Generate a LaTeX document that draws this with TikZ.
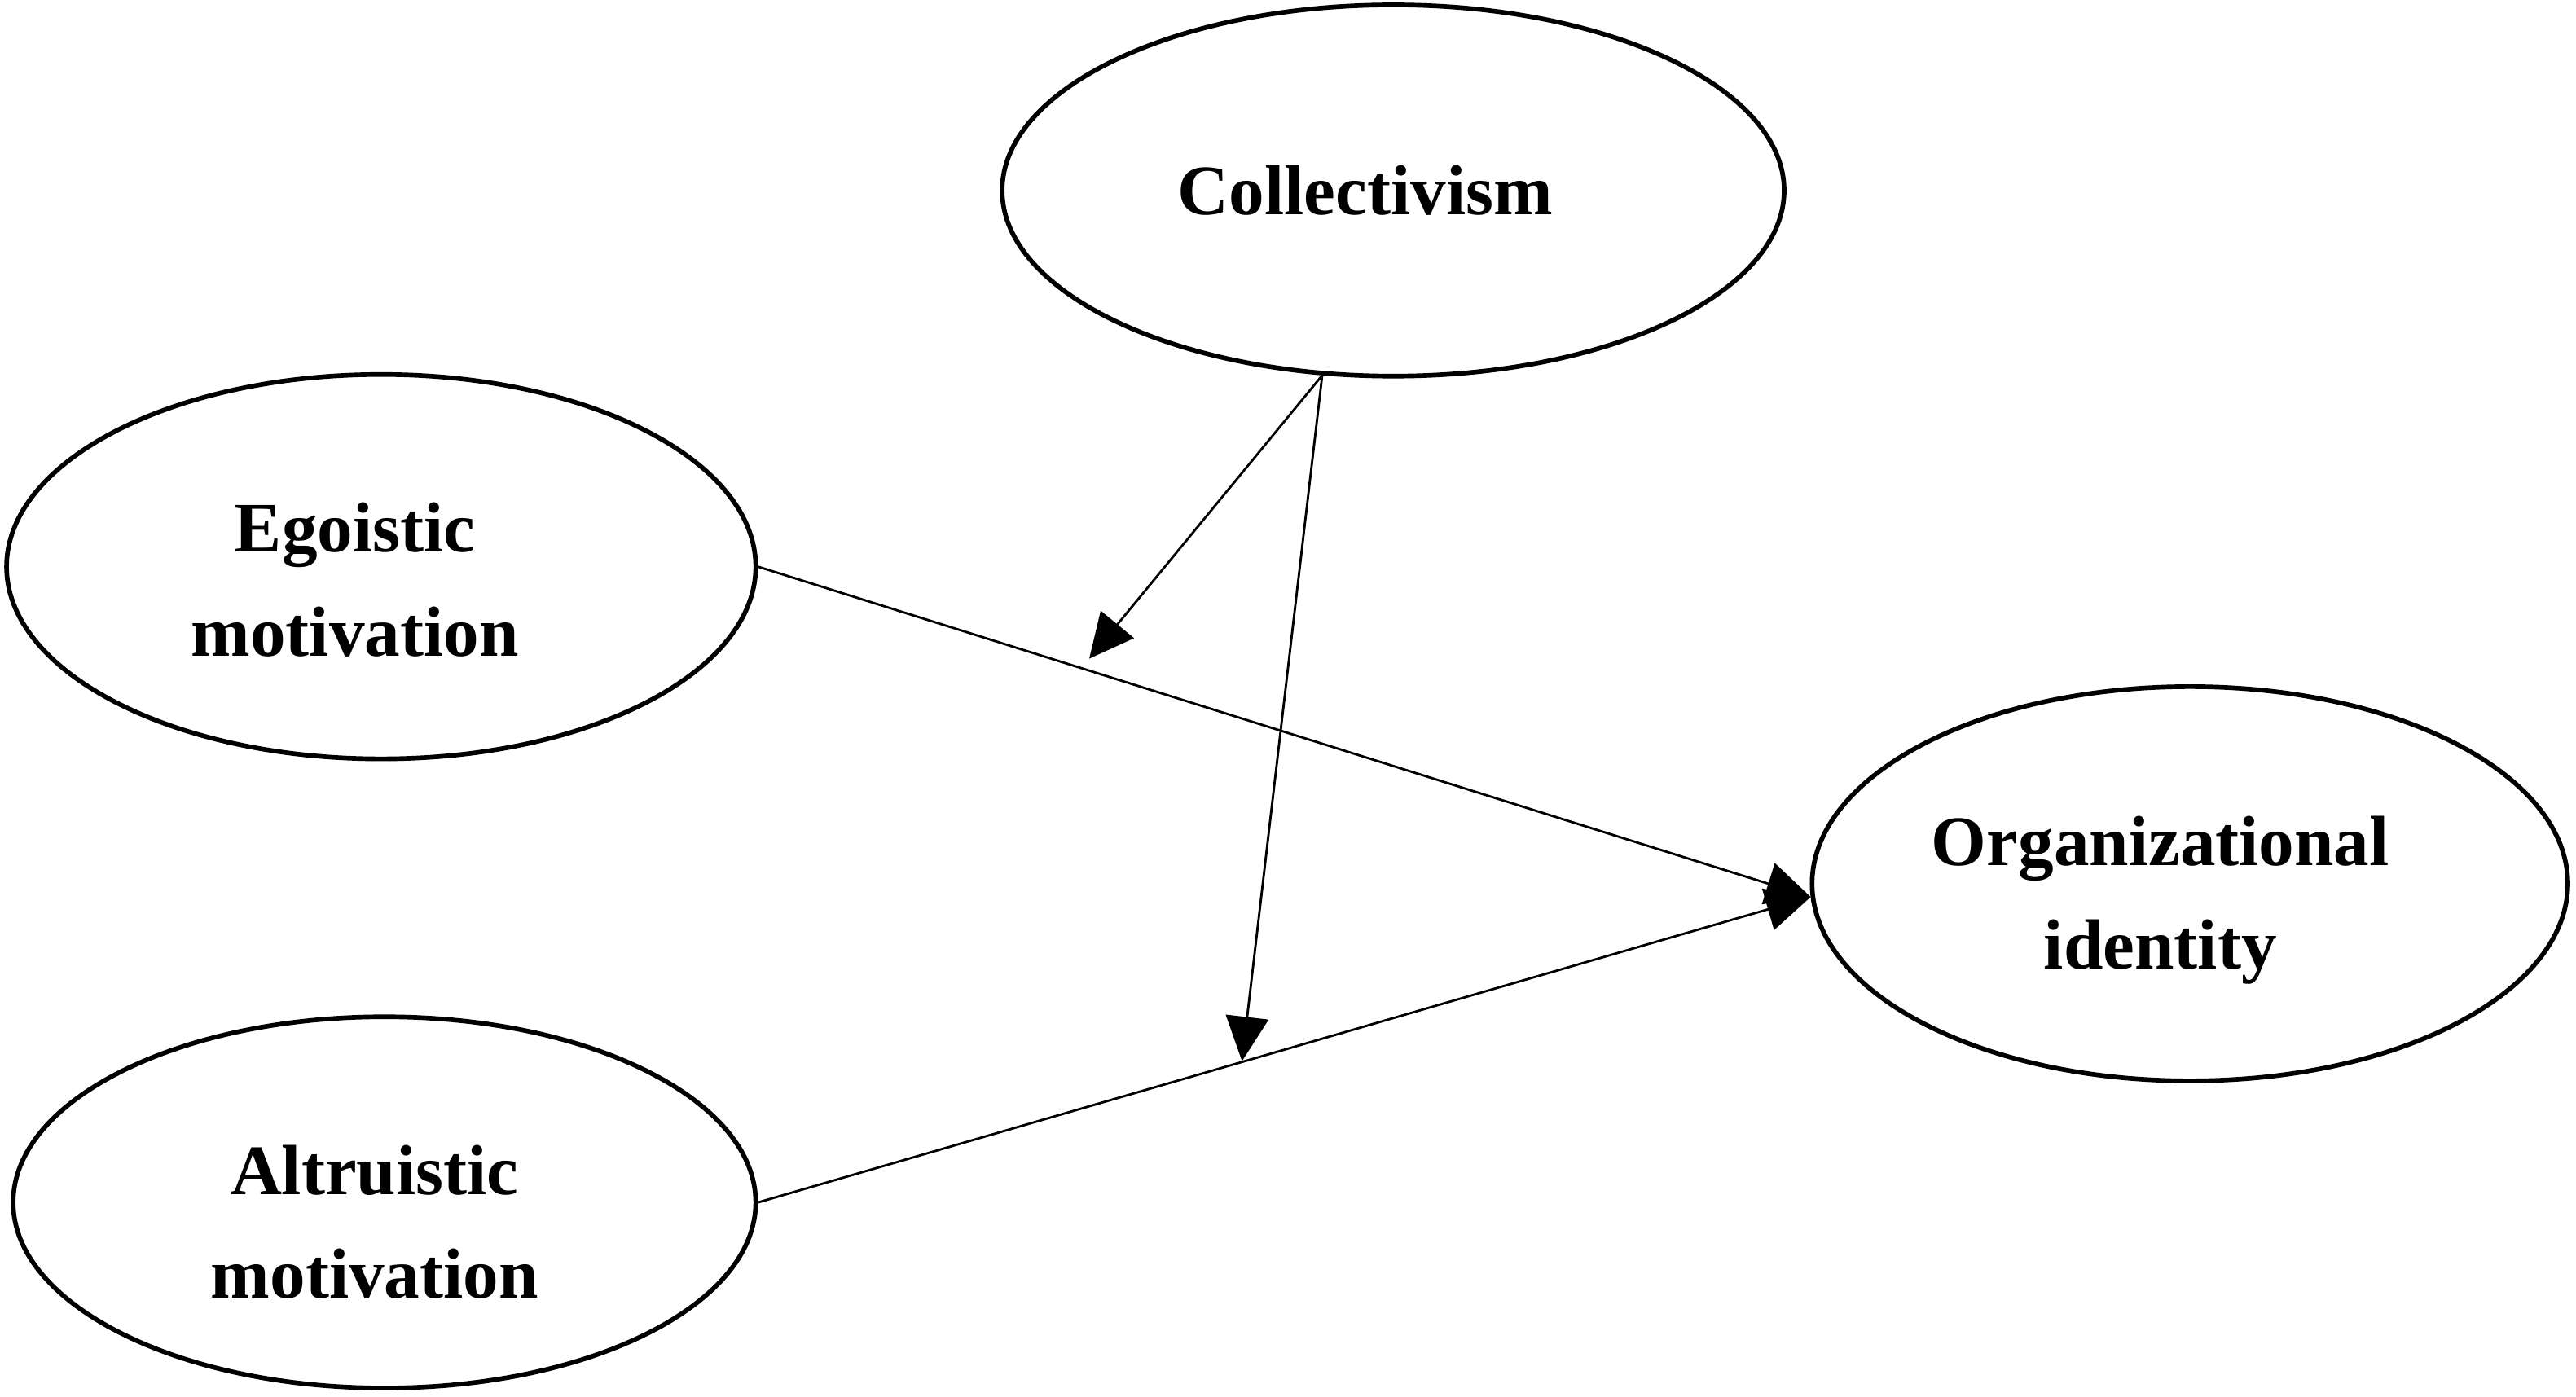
\documentclass[tikz,border=0pt]{standalone}
\usepackage{fontspec}
\setmainfont{Liberation Serif}
\usepackage{tikz}
\usetikzlibrary{arrows.meta,shapes,positioning}
\tikzstyle{construct} = [ellipse, draw=black, line width=0.8pt, inner sep=0pt]
\tikzstyle{constructtext} = [inner sep=0pt, align=center, font=\fontsize{12.3}{18}\selectfont\bfseries]
\tikzstyle{arrow} = [line width=0.4pt,->,>={Triangle[length=2.7mm,width=2.6mm]}]

\begin{document}
\begin{tikzpicture}
\useasboundingbox (0,0) rectangle (15.68,8.5);
% Nodes
\node[construct, minimum width=4.76cm, minimum height=2.26cm] (col) at (8.48,7.34) {};
\node[construct, minimum width=4.56cm, minimum height=2.34cm] (ego) at (2.32,5.05) {};
\node[construct, minimum width=4.52cm, minimum height=2.26cm] (alt) at (2.34,1.18) {};
\node[construct, minimum width=4.60cm, minimum height=2.40cm] (org) at (13.33,3.12) {};

% Labels
\node[constructtext] (coltext) at (8.31,7.34) {Collectivism};
\node[constructtext] (egotext) at (2.16,4.97) {Egoistic\\motivation};
\node[constructtext] (alttext) at (2.28,1.06) {Altruistic\\motivation};
\node[constructtext] (orgtext) at (13.15,3.02) {Organizational\\identity};

% Moderation targets
\coordinate (m1) at (6.63,4.49);
\coordinate (m2) at (7.56,2.04);

% Paths
\draw[arrow] (ego.east) -- (org.182);
\draw[arrow] (alt.east) -- (org.182);
\draw[arrow] (col.249) -- (m1);
\draw[arrow] (col.249) -- (m2);
\end{tikzpicture}
\end{document}
